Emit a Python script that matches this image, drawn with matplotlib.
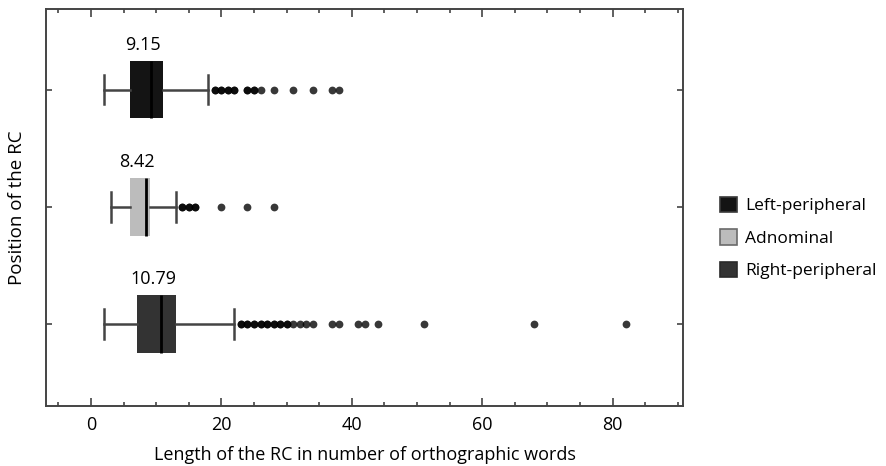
import matplotlib
matplotlib.use("Agg")
import matplotlib.pyplot as plt
from matplotlib.patches import Patch
from matplotlib.ticker import MultipleLocator

plt.rcParams['font.family'] = ['Open Sans', 'DejaVu Sans']

categories = ["Left-peripheral", "Adnominal", "Right-peripheral"]
means = [9.15, 8.42, 10.79]
q1 = [6, 6, 7]
q3 = [11, 9, 13]
whislo = [2, 3, 2]
whishi = [18, 13, 22]
fliers = [
    [19, 19, 20, 20, 21, 21, 22, 22, 24, 24, 25, 25, 26, 28, 31, 34, 37, 38],
    [14, 14, 15, 15, 16, 16, 20, 24, 28],
    [23, 23, 24, 24, 25, 25, 26, 26, 27, 27, 28, 28, 29, 29, 30, 30,
     31, 32, 33, 34, 37, 38, 41, 42, 44, 51, 68, 82],
]
colors = ["#141414", "#bcbcbc", "#333333"]
edge_colors = ["#3a3a3a", "#6a6a6a", "#2a2a2a"]
positions = [3, 2, 1]

fig = plt.figure(figsize=(8.87, 4.66), dpi=100)
ax = fig.add_axes([46 / 887, 1 - 406 / 466, (683 - 46) / 887, (406 - 9) / 466])

stats = []
for i, name in enumerate(categories):
    stats.append(dict(label=name, med=means[i], mean=means[i], q1=q1[i], q3=q3[i],
                      whislo=whislo[i], whishi=whishi[i], fliers=fliers[i]))

bp = ax.bxp(stats, positions=positions, vert=False, widths=0.49, patch_artist=True,
            showmeans=False, showfliers=True,
            boxprops=dict(linewidth=0),
            whiskerprops=dict(color="#444444", linewidth=1.8),
            capprops=dict(color="#444444", linewidth=1.8),
            capwidths=0.25,
            medianprops=dict(color="black", linewidth=2.0),
            flierprops=dict(marker='o', markersize=5.6, markerfacecolor='black',
                            markeredgecolor='none', alpha=0.78))
for patch, c in zip(bp['boxes'], colors):
    patch.set_facecolor(c)
    patch.set_edgecolor(c)

for i in range(len(categories)):
    ax.annotate(f"{means[i]:.2f}", xy=((q1[i] + q3[i]) / 2 - 0.5, positions[i] + 0.245),
                xytext=(0, 5.0), textcoords="offset points",
                ha="center", va="bottom", fontsize=13, color="black")

ax.set_xlim(-6.9, 90.8)
ax.set_ylim(0.3, 3.69)
ax.xaxis.set_major_locator(MultipleLocator(20))
ax.xaxis.set_minor_locator(MultipleLocator(5))
ax.set_yticks(positions)
ax.set_yticklabels([])
ax.tick_params(axis='x', which='major', direction='in', length=5.5, width=1.2,
               top=True, bottom=True, labelsize=13, color="#444444", pad=7)
ax.tick_params(axis='x', which='minor', direction='in', length=3, width=1.2,
               top=True, bottom=True, color="#444444")
ax.tick_params(axis='y', which='major', direction='in', length=4.5, width=1.2,
               left=True, right=True, color="#444444")
for s in ax.spines.values():
    s.set_color("#444444")
    s.set_linewidth(1.4)

ax.set_xlabel("Length of the RC in number of orthographic words", fontsize=13, labelpad=9)
ax.set_ylabel("Position of the RC", fontsize=13.5, labelpad=11)

handles = [Patch(facecolor=colors[i], edgecolor=edge_colors[i], linewidth=1.2, label=categories[i])
           for i in range(len(categories))]
fig.legend(handles=handles, loc="center left", bbox_to_anchor=(704 / 887, 1 - 238 / 466),
           frameon=False, fontsize=12.5, handlelength=1.0, handleheight=1.0,
           handletextpad=0.45, labelspacing=0.85)

fig.savefig("out.png", dpi=100)
